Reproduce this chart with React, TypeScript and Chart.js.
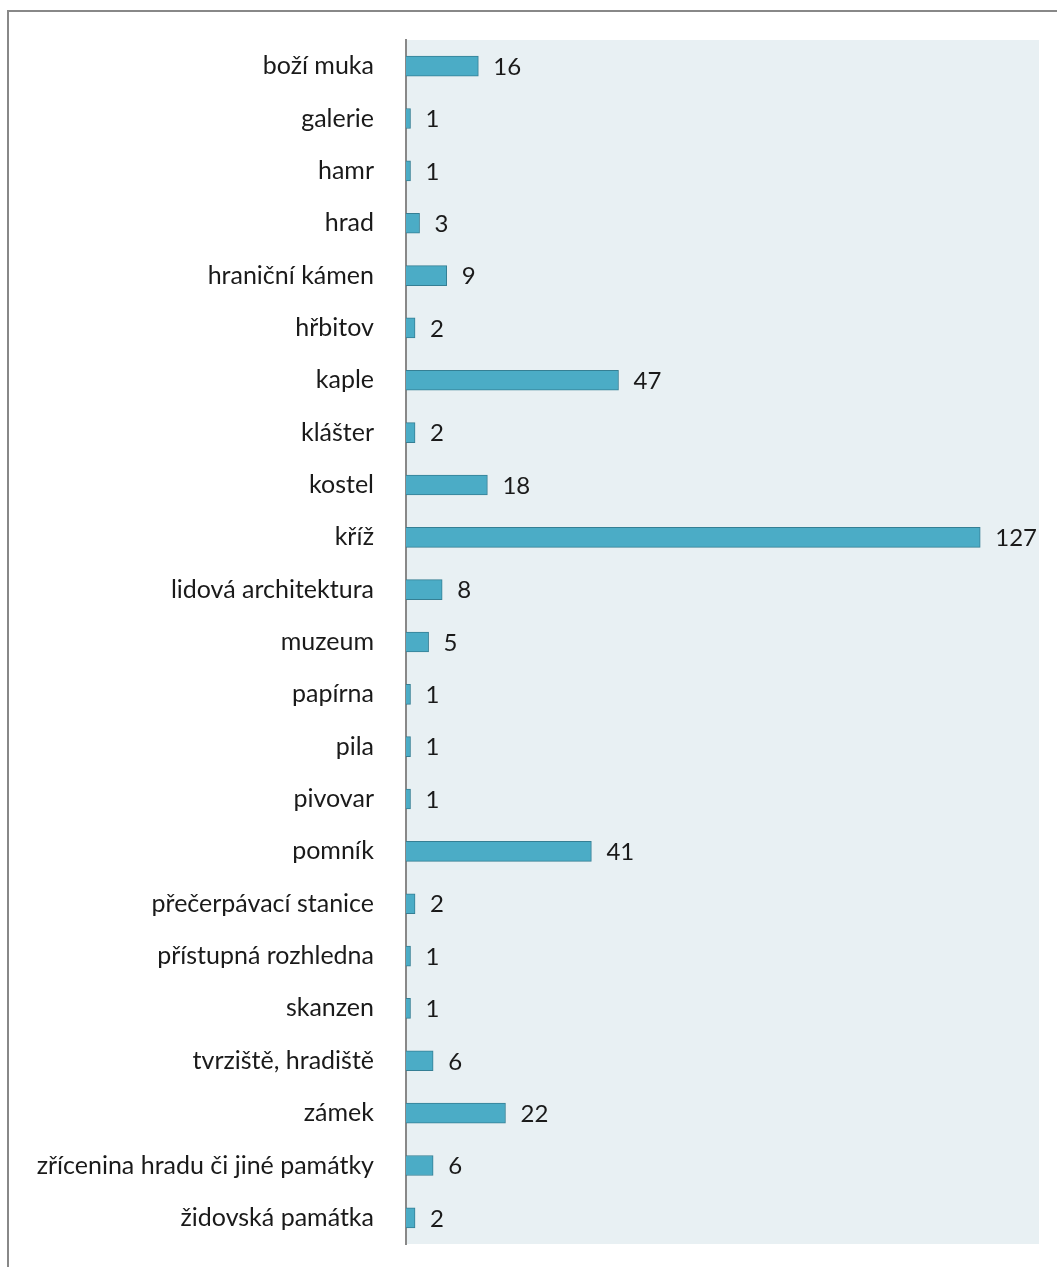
import React, { useEffect, useRef } from "react";
import { Chart, registerables } from "chart.js";

Chart.register(...registerables);

const categories = [
  "boží muka",
  "galerie",
  "hamr",
  "hrad",
  "hraniční kámen",
  "hřbitov",
  "kaple",
  "klášter",
  "kostel",
  "kříž",
  "lidová architektura",
  "muzeum",
  "papírna",
  "pila",
  "pivovar",
  "pomník",
  "přečerpávací stanice",
  "přístupná rozhledna",
  "skanzen",
  "tvrziště, hradiště",
  "zámek",
  "zřícenina hradu či jiné památky",
  "židovská památka",
];

const counts = [16, 1, 1, 3, 9, 2, 47, 2, 18, 127, 8, 5, 1, 1, 1, 41, 2, 1, 1, 6, 22, 6, 2];

const FONT = "Lato, 'Open Sans', sans-serif";

const bgPlugin = {
  id: "plotBg",
  beforeDraw(chart: any) {
    const { ctx, chartArea } = chart;
    ctx.save();
    ctx.fillStyle = "#e8f0f3";
    ctx.fillRect(chartArea.left, chartArea.top, chartArea.right - chartArea.left, chartArea.bottom - chartArea.top);
    ctx.restore();
  },
};

const labelPlugin = {
  id: "valueLabels",
  afterDatasetsDraw(chart: any) {
    const { ctx } = chart;
    const meta = chart.getDatasetMeta(0);
    const data = chart.data.datasets[0].data;
    ctx.save();
    ctx.fillStyle = "#1a1a1a";
    ctx.font = `24px ${FONT}`;
    ctx.textAlign = "left";
    ctx.textBaseline = "middle";
    meta.data.forEach((el: any, i: number) => {
      ctx.fillText(String(data[i]), el.x + 15, el.y + 1);
    });
    ctx.restore();
  },
};

export default function App() {
  const ref = useRef<HTMLCanvasElement>(null);
  useEffect(() => {
    if (!ref.current) return;
    const chart = new Chart(ref.current, {
      type: "bar",
      data: {
        labels: categories,
        datasets: [
          {
            data: counts,
            backgroundColor: "#4bacc6",
            borderColor: "#357f94",
            borderWidth: 1,
            borderSkipped: "left",
            barThickness: 20,
          },
        ],
      },
      options: {
        indexAxis: "y",
        animation: false,
        responsive: false,
        maintainAspectRatio: false,
        layout: { padding: { top: 28, right: 18, bottom: 23, left: 0 } },
        plugins: { legend: { display: false }, tooltip: { enabled: false } },
        scales: {
          x: {
            display: false,
            min: 0,
            max: 140,
          },
          y: {
            grid: {
              display: true,
              drawOnChartArea: false,
              drawTicks: true,
              tickLength: 32,
              tickColor: "rgba(0,0,0,0)",
            },
            border: { display: true, color: "#888888", width: 2 },
            ticks: {
              padding: 0,
              color: "#1a1a1a",
              font: { family: FONT, size: 25 },
            },
            afterFit(axis: any) {
              axis.width = 397;
            },
          },
        },
      },
      plugins: [bgPlugin, labelPlugin],
    });
    return () => chart.destroy();
  }, []);

  return (
    <div
      style={{
        position: "absolute",
        left: 7,
        top: 10,
        width: 1050,
        height: 1257,
        borderTop: "2px solid #888888",
        borderLeft: "2px solid #888888",
        boxSizing: "border-box",
        overflow: "hidden",
      }}
    >
      <canvas ref={ref} width={1048} height={1255} style={{ display: "block", width: 1048, height: 1255 }} />
    </div>
  );
}
